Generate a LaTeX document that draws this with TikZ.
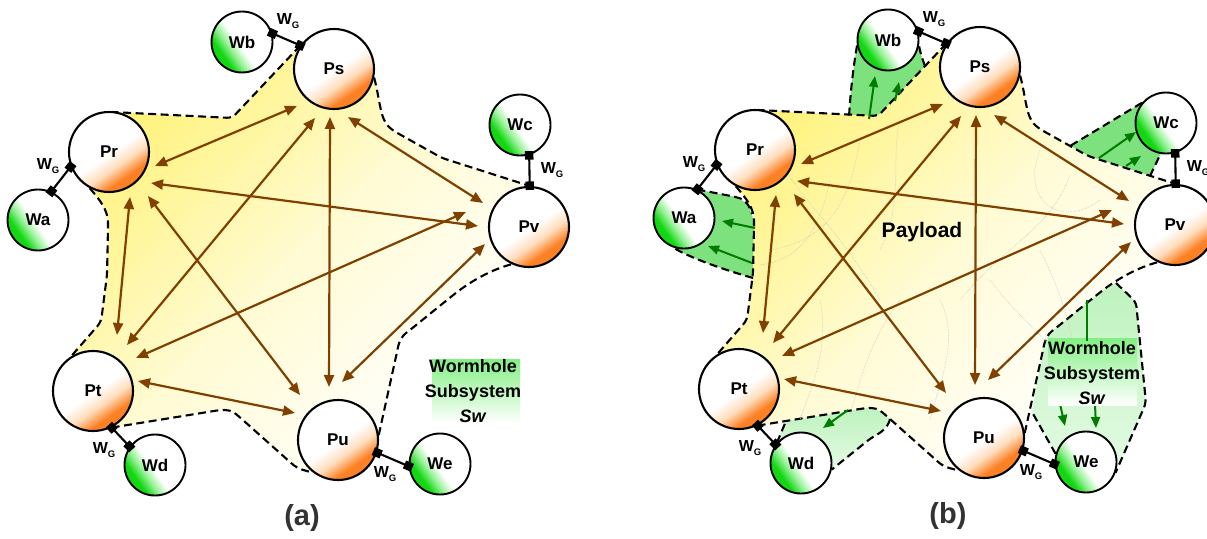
\documentclass[tikz,border=0pt]{standalone}
\usepackage{fontspec}
\setmainfont{Liberation Sans}
\usetikzlibrary{arrows.meta,calc}
\pgfdeclarelayer{gbg}
\pgfdeclarelayer{bg}
\pgfsetlayers{gbg,bg,main}
\definecolor{brownA}{RGB}{128,64,0}
\definecolor{orangeP}{RGB}{252,128,36}
\definecolor{orangeM}{RGB}{255,222,190}
\definecolor{greenW}{RGB}{20,215,20}
\definecolor{greenWM}{RGB}{150,242,150}
\definecolor{yellowF}{RGB}{255,242,120}
\definecolor{yellowM}{RGB}{255,251,212}
\definecolor{greenF}{RGB}{125,226,125}
\definecolor{greenL1}{RGB}{190,242,190}
\definecolor{greenL2}{RGB}{228,251,228}
\definecolor{greenT}{RGB}{130,240,130}
\definecolor{darkG}{RGB}{0,125,0}
\pgfdeclarehorizontalshading{pshade}{100bp}{color(0bp)=(white); color(51bp)=(white); color(60bp)=(orangeM); color(69bp)=(orangeP); color(100bp)=(orangeP)}
\pgfdeclarehorizontalshading{wshade}{100bp}{color(0bp)=(greenW); color(31bp)=(greenW); color(39bp)=(greenWM); color(47bp)=(white); color(100bp)=(white)}
\pgfdeclarehorizontalshading{yshade}{100bp}{color(0bp)=(yellowF); color(24bp)=(yellowF); color(50bp)=(yellowM); color(74bp)=(white); color(100bp)=(white)}
\newcommand\WG{W\raisebox{-3.5pt}{\fontsize{9.5}{9.5}\selectfont G}}
\tikzset{
 pnode/.style={circle, draw, line width=2.1pt, minimum size=80pt, inner sep=0pt, shade, shading=pshade, shading angle=-55, font=\fontsize{17}{17}\selectfont\bfseries},
 wnode/.style={circle, draw, line width=1.9pt, minimum size=61pt, inner sep=0pt, shade, shading=wshade, shading angle=35, font=\fontsize{17}{17}\selectfont\bfseries},
 parrow/.style={draw=brownA, line width=2.2pt, {Triangle[length=12pt,width=10pt]}-{Triangle[length=12pt,width=10pt]}},
 wg/.style={line width=2.1pt, {Square[length=8.5pt,width=8.5pt]}-{Square[length=8.5pt,width=8.5pt]}, shorten <=-4pt, shorten >=-4pt},
 wglab/.style={inner sep=0pt, font=\fontsize{16}{16}\selectfont\bfseries},
 plabel/.style={inner sep=0pt, text=black!80, font=\fontsize{29}{29}\selectfont\bfseries},
 bound/.style={dash pattern=on 8pt off 4.5pt, line width=2.1pt, rounded corners=5pt},
 garrow/.style={draw=darkG, line width=2pt, -{Triangle[length=11pt,width=9pt]}},
 wtext/.style={inner sep=0pt, align=center, font=\fontsize{18}{25}\selectfont\bfseries},
 faint/.style={draw=black!22, line width=0.6pt, densely dotted},
}
\newcommand\mypanel[4]{%
 \def\pdx{#2}\def\pdy{#3}%
 \node[pnode] (Ps#1) at (\pdx+334,\pdy+69) {Ps};
 \node[pnode] (Pr#1) at (\pdx+109,\pdy+152) {Pr};
 \node[pnode] (Pv#1) at (\pdx+529,\pdy+227) {Pv};
 \node[pnode] (Pt#1) at (\pdx+93,\pdy+391) {Pt};
 \node[pnode] (Pu#1) at (\pdx+338,\pdy+440) {Pu};
 \node[wnode] (Wb#1) at (\pdx+242,\pdy+42) {Wb};
 \node[wnode] (Wc#1) at (\pdx+520,\pdy+125) {Wc};
 \node[wnode] (Wa#1) at (\pdx+38,\pdy+220) {Wa};
 \node[wnode] (Wd#1) at (\pdx+155,\pdy+465) {Wd};
 \node[wnode] (We#1) at (\pdx+440,\pdy+464) {We};
 \draw[wg] (Ps#1.145) -- (Wb#1.16);
 \draw[wg] (Pr#1.201) -- (Wa#1.65);
 \draw[wg] (Pv#1.89) -- (Wc#1.-73);
 \draw[wg] (Pt#1.-63) -- (Wd#1.144);
 \draw[wg] (Pu#1.-18) -- (We#1.184);
 \node[wglab] (gb#1) at (\pdx+288,\pdy+21) {\WG};
 \node[wglab] (ga#1) at (\pdx+48,\pdy+166) {\WG};
 \node[wglab] (gc#1) at (\pdx+552,\pdy+170) {\WG};
 \node[wglab] (gd#1) at (\pdx+104,\pdy+450) {\WG};
 \node[wglab] (ge#1) at (\pdx+385,\pdy+474) {\WG};
 \node[plabel] (lab#1) at (\pdx+302,\pdy+518) {#4};
 \draw[parrow] ($(Pr#1)+(46,14)$) -- ($(Ps#1)+(-37,37)$);
 \draw[parrow] ($(Pr#1)+(42,31)$) -- ($(Pv#1)+(-51,-1)$);
 \draw[parrow] ($(Ps#1)+(14,48)$) -- ($(Pv#1)+(-46,-24)$);
 \draw[parrow] ($(Ps#1)+(-4,48)$) -- ($(Pu#1)+(-9,-53)$);
 \draw[parrow] ($(Ps#1)+(-19,49)$) -- ($(Pt#1)+(34,-46)$);
 \draw[parrow] ($(Pr#1)+(21,45)$) -- ($(Pt#1)+(24,-56)$);
 \draw[parrow] ($(Pr#1)+(39,44)$) -- ($(Pu#1)+(-38,-45)$);
 \draw[parrow] ($(Pv#1)+(-63,-15)$) -- ($(Pt#1)+(43,-33)$);
 \draw[parrow] ($(Pv#1)+(-44,17)$) -- ($(Pu#1)+(4,-58)$);
 \draw[parrow] ($(Pt#1)+(45,-10)$) -- ($(Pu#1)+(-43,-27)$);
 \begin{pgfonlayer}{bg}
  \shade[shading=yshade, shading angle=-45, rounded corners=5pt]
   (Ps#1.145) -- (\pdx+232,\pdy+118) -- (\pdx+112,\pdy+112) -- (Pr#1.center) -- (Pr#1.242)
   .. controls (\pdx+100,\pdy+200) and (\pdx+108,\pdy+210) .. (\pdx+108,\pdy+228)
   -- (\pdx+107,\pdy+275) -- (\pdx+101,\pdy+322) -- (Pt#1.122) -- (Pt#1.center) -- (Pt#1.-63)
   -- (\pdx+220,\pdy+410) .. controls (\pdx+232,\pdy+410) and (\pdx+236,\pdy+414) .. (\pdx+244,\pdy+421)
   -- (\pdx+290,\pdy+462) .. controls (\pdx+298,\pdy+469) and (\pdx+306,\pdy+471) .. (Pu#1.232)
   -- (Pu#1.center) -- (Pu#1.7) -- (\pdx+397,\pdy+352)
   .. controls (\pdx+399,\pdy+342) and (\pdx+402,\pdy+336) .. (\pdx+410,\pdy+330)
   -- (\pdx+452,\pdy+296) .. controls (\pdx+470,\pdy+282) and (\pdx+490,\pdy+270) .. (Pv#1.245)
   -- (Pv#1.center) -- (Pv#1.89) -- (\pdx+442,\pdy+158) -- (\pdx+392,\pdy+130)
   .. controls (\pdx+380,\pdy+118) and (\pdx+380,\pdy+100) .. (Ps#1.-12) -- (Ps#1.center) -- cycle;
  \draw[bound] (Ps#1.145) -- (\pdx+232,\pdy+118) -- (\pdx+112,\pdy+112);
  \draw[bound] (Pr#1.242) .. controls (\pdx+100,\pdy+200) and (\pdx+108,\pdy+210) .. (\pdx+108,\pdy+228)
   -- (\pdx+107,\pdy+275) -- (\pdx+101,\pdy+322) -- (Pt#1.122);
  \draw[bound] (Pt#1.-63) -- (\pdx+220,\pdy+410) .. controls (\pdx+232,\pdy+410) and (\pdx+236,\pdy+414) .. (\pdx+244,\pdy+421)
   -- (\pdx+290,\pdy+462) .. controls (\pdx+298,\pdy+469) and (\pdx+306,\pdy+471) .. (Pu#1.232);
  \draw[bound] (Pu#1.7) -- (\pdx+397,\pdy+352) .. controls (\pdx+399,\pdy+342) and (\pdx+402,\pdy+336) .. (\pdx+410,\pdy+330)
   -- (\pdx+452,\pdy+296) .. controls (\pdx+470,\pdy+282) and (\pdx+490,\pdy+270) .. (Pv#1.245);
  \draw[bound] (Ps#1.-12) .. controls (\pdx+380,\pdy+100) and (\pdx+380,\pdy+118) .. (\pdx+392,\pdy+130)
   -- (\pdx+442,\pdy+158) -- (Pv#1.89);
 \end{pgfonlayer}
}
\begin{document}
\begin{tikzpicture}[x=1pt,y=-1pt]
\useasboundingbox (0,0) rectangle (1207,538);
\mypanel{a}{0}{0}{(a)}
\mypanel{b}{646}{-2}{(b)}
% panel (a) wormhole label
\shade[top color=greenT, middle color=greenT, bottom color=white] (432,359) rectangle (520,423);
\node[wtext] (wsa) at (473,391) {Wormhole\\Subsystem\\\textit{Sw}};
% panel (b) wormhole regions
\begin{pgfonlayer}{gbg}
 \fill[greenF] (Wbb.center) -- (Wbb.190) .. controls (852,75) and (850,100) .. (849,117) -- (878,117) -- (925,66) .. controls (922,58) and (920,52) .. (Wbb.-10) -- cycle;
 \fill[greenF] (Wab.center) -- (Wab.65) -- (736,197) .. controls (748,202) and (753,212) .. (754,226) -- (753,278) .. controls (725,270) and (690,258) .. (Wab.250) -- cycle;
 \fill[greenF] (Wcb.center) -- (Wcb.140) -- (1070,146) -- (1088,156) -- (1150,176) -- (Wcb.-100) -- cycle;
 \shade[top color=greenL1, bottom color=greenL2] (Wdb.center) -- (Wdb.140) -- (786,421) -- (866,408) .. controls (878,408) and (882,412) .. (890,419) .. controls (888,428) and (880,433) .. (871,438) -- (Wdb.-12) -- cycle;
 \shade[top color=greenL1, bottom color=greenL2] (Web.center) -- (Web.165) -- (1032,412) -- (1043,350) .. controls (1045,340) and (1048,334) .. (1056,328) -- (1098,294) -- (1116,283) -- (1136,302) -- (1146,403) -- (Web.-20) -- cycle;
\end{pgfonlayer}
\begin{pgfonlayer}{bg}
 % faint flow texture in the payload of (b)
 \draw[faint] (900,120) .. controls (890,160) and (905,200) .. (880,250);
 \draw[faint] (860,140) .. controls (850,200) and (830,240) .. (770,250);
 \draw[faint] (830,180) .. controls (820,230) and (800,260) .. (760,265);
 \draw[faint] (1040,150) .. controls (1020,200) and (1060,230) .. (1100,200);
 \draw[faint] (1070,175) .. controls (1050,230) and (1010,240) .. (960,300);
 \draw[faint] (900,300) .. controls (870,340) and (860,380) .. (850,415);
 \draw[faint] (820,300) .. controls (830,350) and (810,390) .. (800,420);
 \draw[faint] (990,280) .. controls (1020,320) and (1040,330) .. (1060,360);
 \draw[faint] (1040,250) .. controls (1060,290) and (1070,320) .. (1080,380);
 \draw[faint] (940,300) .. controls (960,340) and (940,380) .. (930,420);
 \draw[faint] (780,160) .. controls (800,200) and (840,230) .. (880,300);
 \draw[bound] (Wbb.190) .. controls (852,75) and (850,100) .. (849,117);
 \draw[bound] (925,66) .. controls (922,58) and (920,52) .. (Wbb.-10);
 \draw[bound] (Wab.65) -- (736,197) .. controls (745,200) and (750,206) .. (752,214);
 \draw[bound] (753,278) .. controls (725,270) and (690,258) .. (Wab.250);
 \draw[bound] (Wcb.140) -- (1070,146);
 \draw[bound] (1150,176) -- (Wcb.-100);
 \draw[bound] (Wdb.140) -- (786,421);
 \draw[bound] (890,419) .. controls (888,428) and (880,433) .. (871,438) -- (Wdb.-12);
 \draw[bound] (Web.165) -- (1032,412);
 \draw[bound] (1116,283) -- (1136,302) -- (1146,403) -- (Web.-20);
\end{pgfonlayer}
% green flow arrows
\coordinate (gb1s) at (869,119); \coordinate (gb1e) at (875,76);
\coordinate (gb2s) at (895,101); \coordinate (gb2e) at (899,82);
\coordinate (ga1s) at (755,228); \coordinate (ga1e) at (722,221);
\coordinate (ga2s) at (752,263); \coordinate (ga2e) at (708,246);
\coordinate (gc1s) at (1099,158); \coordinate (gc1e) at (1136,132);
\coordinate (gc2s) at (1126,166); \coordinate (gc2e) at (1141,156);
\coordinate (gd1s) at (848,410); \coordinate (gd1e) at (823,428);
\coordinate (ge1s) at (1060,404); \coordinate (ge1e) at (1065,426);
\coordinate (ge2s) at (1095,404); \coordinate (ge2e) at (1096,428);
\coordinate (ge3s) at (1087,300);
\draw[garrow] (gb1s) -- (gb1e);
\draw[garrow] (gb2s) -- (gb2e);
\draw[garrow] (ga1s) -- (ga1e);
\draw[garrow] (ga2s) -- (ga2e);
\draw[garrow] (gc1s) -- (gc1e);
\draw[garrow] (gc2s) -- (gc2e);
\draw[garrow] (gd1s) -- (gd1e);
\draw[garrow] (ge1s) -- (ge1e);
\draw[garrow] (ge2s) -- (ge2e);
\shade[top color=greenT, middle color=greenT, bottom color=white] (1048,338) rectangle (1137,405);
\node[wtext] (wsb) at (1092,373) {Wormhole\\Subsystem\\\textit{Sw}};
\draw[darkG, line width=1.6pt] (ge3s) -- (wsb.north -| ge3s);
\node[inner sep=0pt, font=\fontsize{21}{21}\selectfont\bfseries] (pay) at (922,232) {Payload};
\end{tikzpicture}
\end{document}
